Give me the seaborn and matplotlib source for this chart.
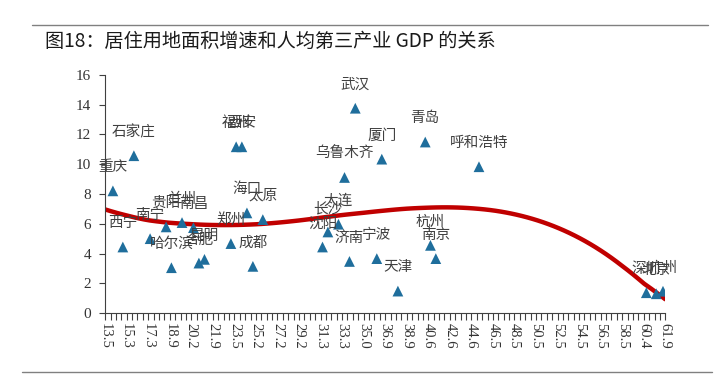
import numpy as np
import pandas as pd
import seaborn as sns
from matplotlib import pyplot as plt
from matplotlib.lines import Line2D

# -----------------------------------------------------------------
# データ (読み取り値)
# -----------------------------------------------------------------
tick_vals = [13.5, 15.3, 17.3, 18.9, 20.2, 21.9, 23.5, 25.2, 27.2, 29.2, 31.3,
             33.3, 35.0, 36.9, 38.9, 40.6, 42.6, 44.6, 46.5, 48.5, 50.5, 52.5,
             54.5, 56.5, 58.5, 60.4, 61.9]
tick_labels = [f"{v:.1f}" for v in tick_vals]

cities = ["重庆", "西宁", "石家庄", "南宁", "贵阳", "哈尔滨", "兰州", "南昌",
          "合肥", "昆明", "郑州", "福州", "西安", "海口", "成都", "太原",
          "沈阳", "长沙", "大连", "乌鲁木齐", "济南", "武汉", "宁波", "厦门",
          "天津", "青岛", "杭州", "南京", "呼和浩特", "深圳", "北京", "广州"]
gdp = [14.15, 14.98, 15.97, 17.44, 18.63, 19.00, 19.64, 20.37,
       20.80, 21.24, 23.24, 23.64, 24.09, 24.49, 24.96, 25.84,
       31.48, 31.98, 32.96, 33.49, 33.88, 34.34, 36.16, 36.60,
       38.08, 40.36, 40.80, 41.30, 45.27, 60.58, 61.27, 61.74]
growth = [8.21, 4.44, 10.57, 5.00, 5.79, 3.05, 6.08, 5.74,
          3.36, 3.61, 4.67, 11.17, 11.17, 6.73, 3.14, 6.28,
          4.44, 5.45, 5.97, 9.11, 3.47, 13.76, 3.66, 10.34,
          1.48, 11.49, 4.55, 3.66, 9.83, 1.37, 1.30, 1.47]

df = pd.DataFrame({"city": cities, "gdp": gdp, "growth": growth})

# -----------------------------------------------------------------
# 描画
# -----------------------------------------------------------------
sns.set_style("white")
plt.rcParams["font.family"] = ["Noto Sans CJK SC", "DejaVu Sans"]

fig = plt.figure(figsize=(7.2, 3.8), dpi=100)
ax = fig.add_axes([0.146, 0.176, 0.778, 0.627])

# x軸はExcelのカテゴリ軸風 (目盛ラベルが等間隔)
idx = np.arange(len(tick_vals), dtype=float)
forward = lambda v: np.interp(v, tick_vals, idx)
inverse = lambda v: np.interp(v, idx, tick_vals)
ax.set_xscale("function", functions=(forward, inverse))
ax.set_xlim(tick_vals[0], tick_vals[-1])
ax.set_ylim(0, 16)

# 3次の近似曲線
sns.regplot(data=df, x="gdp", y="growth", order=3, scatter=False, ci=None,
            truncate=False, color="#C00000", line_kws={"lw": 3.2}, ax=ax)
sns.scatterplot(data=df, x="gdp", y="growth", marker="^", s=60,
                color="#1F6E9C", edgecolor="none", ax=ax, zorder=3)

# データラベル (点の上)
for c, x, y in zip(cities, gdp, growth):
    ax.annotate(c, (x, y), xytext=(0, 17), textcoords="offset points",
                ha="center", va="center", fontsize=10.5, color="#404040",
                family="Noto Sans CJK SC")

ax.set_xticks(tick_vals)
ax.set_xticks(inverse(np.arange(0, len(tick_vals) - 0.99, 0.25)), minor=True)
ax.set_xticklabels(tick_labels, rotation=-90, fontsize=10.5,
                   family="Liberation Serif", color="#333333")
ax.set_yticks(np.arange(0, 17, 2))
ax.set_yticklabels([str(v) for v in range(0, 17, 2)], fontsize=11,
                   family="Liberation Serif", color="#333333")
ax.tick_params(axis="both", which="both", direction="out", color="#404040",
               width=0.8, bottom=True, left=True)
ax.tick_params(axis="x", which="major", length=5, pad=2)
ax.tick_params(axis="x", which="minor", length=5)
ax.tick_params(axis="y", length=4, pad=6)
for s in ["top", "right"]:
    ax.spines[s].set_visible(False)
for s in ["left", "bottom"]:
    ax.spines[s].set_color("#404040")
    ax.spines[s].set_linewidth(0.8)
ax.set_xlabel("")
ax.set_ylabel("")

# タイトルと区切り線
fig.add_artist(Line2D([32 / 720, 708 / 720], [1 - 25 / 380] * 2,
                      color="#808080", lw=1))
fig.add_artist(Line2D([22 / 720, 712 / 720], [1 - 372 / 380] * 2,
                      color="#808080", lw=1))
fig.text(45 / 720, 1 - 41 / 380, "图18：居住用地面积增速和人均第三产业 GDP 的关系",
         fontsize=13.8, va="center", ha="left", color="#1a1a1a")

plt.savefig("out.png", dpi=100)
